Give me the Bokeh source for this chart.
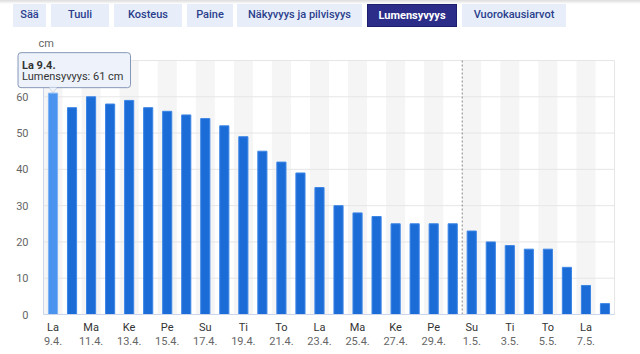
from bokeh.plotting import figure
from bokeh.models import Range1d, FixedTicker, LinearAxis, Label, PolyAnnotation, Div
from bokeh.layouts import column
from bokeh.embed import file_html
from bokeh.resources import INLINE

# ---- data ----
weekdays = ["La", "Su", "Ma", "Ti", "Ke", "To", "Pe", "La", "Su", "Ma",
            "Ti", "Ke", "To", "Pe", "La", "Su", "Ma", "Ti", "Ke", "To",
            "Pe", "La", "Su", "Ma", "Ti", "Ke", "To", "Pe", "La", "Su"]
dates = ["9.4.", "10.4.", "11.4.", "12.4.", "13.4.", "14.4.", "15.4.", "16.4.", "17.4.", "18.4.",
         "19.4.", "20.4.", "21.4.", "22.4.", "23.4.", "24.4.", "25.4.", "26.4.", "27.4.", "28.4.",
         "29.4.", "30.4.", "1.5.", "2.5.", "3.5.", "4.5.", "5.5.", "6.5.", "7.5.", "8.5."]
snow_depth = [61, 57, 60, 58, 59, 57, 56, 55, 54, 52,
              49, 45, 42, 39, 35, 30, 28, 27, 25, 25,
              25, 25, 23, 20, 19, 18, 18, 13, 8, 3]
y_ticks = [0, 10, 20, 30, 40, 50, 60]
unit = "cm"
series_name = "Lumensyvyys"
tabs = ["Sää", "Tuuli", "Kosteus", "Paine", "Näkyvyys ja pilvisyys", "Lumensyvyys", "Vuorokausiarvot"]
active_tab = "Lumensyvyys"
hover_index = 0
today_index = 22  # 1.5. (dashed separator before it)

# ---- layout constants (pixels) ----
tab_left = [13, 51, 114, 187, 237, 367, 462]
tab_right = [46, 109, 182, 233, 362, 457, 566]
FIG_W, FIG_H = 640, 324
PLOT_L, PLOT_R = 43, 614        # plot area in figure pixels
PLOT_T, PLOT_B = 30, 284
FONT = "Roboto"
FS = "11px"

# ---- tabs (HTML) ----
tab_html = ['<div style="position:relative;width:640px;height:30px;overflow:hidden;'
            'background:linear-gradient(#dcdcdc 0px, #ffffff 4px);">']
for name, l, r in zip(tabs, tab_left, tab_right):
    active = name == active_tab
    bg = "#2b2d88" if active else "#e7eefa"
    col = "#ffffff" if active else "#2b3f8c"
    fw = "bold" if active else "500"
    border = "1px solid #1d1f6e" if active else "none"
    tab_html.append(
        f'<div style="position:absolute;left:{l}px;top:4px;width:{r - l}px;height:23px;'
        f'box-sizing:border-box;border:{border};background:{bg};color:{col};font-weight:{fw};'
        f'font-family:{FONT},sans-serif;font-size:11px;line-height:22px;text-align:center;'
        f'white-space:nowrap;">{name}</div>')
tab_html.append("</div>")
tab_div = Div(text="".join(tab_html), width=640, height=30, margin=(0, 0, 0, 0))

# ---- chart ----
n = len(snow_depth)
xs = list(range(n))
ymax = 70
x0, x1 = -0.5, n - 0.5
# extend ranges so the frame covers the whole figure while the plot area keeps its place
xpx = (PLOT_R - PLOT_L) / (x1 - x0)
ypx = (PLOT_B - PLOT_T) / ymax
xr = Range1d(x0 - PLOT_L / xpx, x1 + (FIG_W - PLOT_R) / xpx)
yr = Range1d(0 - (FIG_H - PLOT_B) / ypx, ymax + PLOT_T / ypx)

p = figure(width=FIG_W, height=FIG_H, output_backend="svg", toolbar_location=None,
           x_range=xr, y_range=yr, min_border=0, margin=(0, 0, 0, 0))
p.outline_line_color = None
p.background_fill_color = "white"
p.border_fill_color = "white"
p.xgrid.visible = False
p.ygrid.visible = False

# alternating bands on labelled days
band_x = [i for i in xs if i % 2 == 0]
p.vbar(x=band_x, width=1.0, top=ymax, bottom=0, fill_color="#f5f5f5", line_color=None)

# horizontal grid lines inside the plot area
grid_y = [t for t in y_ticks if t > 0]
p.segment(x0=[x0] * len(grid_y), x1=[x1] * len(grid_y), y0=grid_y, y1=grid_y,
          line_color="#e6e6e6", line_width=1)
# plot area border (top and right)
p.segment(x0=[x0, x1], x1=[x1, x1], y0=[ymax, 0], y1=[ymax, ymax],
          line_color="#e6e6e6", line_width=1)

# bars
colors = ["#4a93ee" if i == hover_index else "#1c6cd8" for i in xs]
edges = ["#7db3f5" if i == hover_index else "#3d86e6" for i in xs]
p.vbar(x=xs, width=0.48, top=snow_depth, bottom=0, fill_color=colors, line_color=edges, line_width=1)

# separator
p.segment(x0=[today_index - 0.5], x1=[today_index - 0.5], y0=[0], y1=[ymax],
          line_color="#888888", line_dash="2 2", line_width=1)

# y axis
ya = p.yaxis[0]
ya.fixed_location = x0
ya.bounds = (0, ymax)
ya.ticker = FixedTicker(ticks=y_ticks)
ya.axis_line_color = "#ccd6eb"
ya.major_tick_line_color = None
ya.minor_tick_line_color = None
ya.major_label_standoff = 9
ya.major_label_text_font = FONT
ya.major_label_text_font_size = FS
ya.major_label_text_color = "#666666"

# x axes: weekday row and date row
tick_pos = [i for i in xs if i % 2 == 0]
ax1 = p.xaxis[0]
ax1.fixed_location = 0
ax1.bounds = (x0, x1)
ax1.ticker = FixedTicker(ticks=tick_pos)
ax1.major_label_overrides = {i: weekdays[i] for i in tick_pos}
ax1.axis_line_color = "#ccd6eb"
ax1.major_tick_line_color = None
ax1.minor_tick_line_color = None
ax1.major_label_standoff = 0
ax1.major_label_text_font = FONT
ax1.major_label_text_font_size = FS
ax1.major_label_text_color = "#333333"

ax2 = LinearAxis(ticker=FixedTicker(ticks=tick_pos), fixed_location=0, bounds=(x0, x1),
                 major_label_overrides={i: dates[i] for i in tick_pos})
ax2.axis_line_color = None
ax2.major_tick_line_color = None
ax2.minor_tick_line_color = None
ax2.major_label_standoff = 16
ax2.major_label_text_font = FONT
ax2.major_label_text_font_size = FS
ax2.major_label_text_color = "#666666"
p.add_layout(ax2, "below")

# unit label above the y axis
p.add_layout(Label(x=x0, y=ymax, x_offset=-5, y_offset=17, text=unit,
                   text_font=FONT, text_font_size=FS, text_color="#666666",
                   text_baseline="middle", text_align="left"))

# tooltip
hv = snow_depth[hover_index]
p.add_layout(Label(x=hover_index, y=hv, x_offset=-35, y_offset=23,
                   text=f"{series_name}: {hv} {unit}",
                   text_font=FONT, text_font_size=FS, text_color="#333333",
                   text_baseline="middle", text_align="left",
                   background_fill_color="#eef3fb", background_fill_alpha=1.0,
                   border_line_color="#8597b8", border_line_width=1,
                   padding=dict(left=4, right=7, top=17, bottom=5), border_radius=3))
p.add_layout(Label(x=hover_index, y=hv, x_offset=-31, y_offset=28,
                   text=f"{weekdays[hover_index]} {dates[hover_index]}",
                   text_font=FONT, text_font_size=FS, text_font_style="bold",
                   text_color="#333333", text_baseline="middle", text_align="left"))
p.add_layout(PolyAnnotation(xs=[hover_index - 0.22, hover_index + 0.22, hover_index],
                            ys=[hv + 1.6, hv + 1.6, hv + 0.1],
                            fill_color="#eef3fb", fill_alpha=1.0,
                            line_color="#8597b8", line_width=1))

layout = column(tab_div, p, spacing=0)
open("out.html", "w").write(file_html(layout, INLINE))
